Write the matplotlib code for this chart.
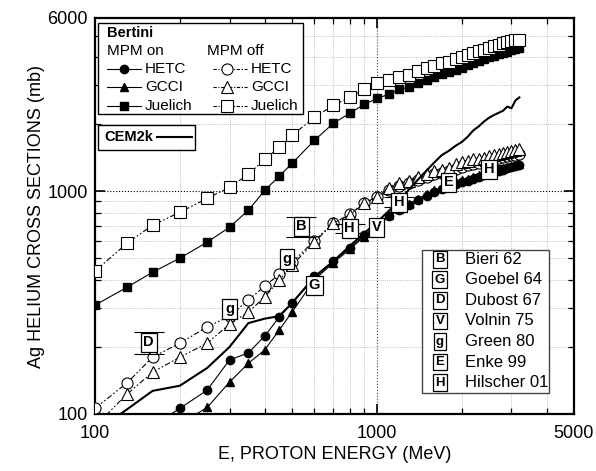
import matplotlib
matplotlib.use("Agg")
import matplotlib.pyplot as plt
import matplotlib.patches as mpatches
from matplotlib.lines import Line2D
from matplotlib.ticker import FixedLocator, NullFormatter, FixedFormatter
import numpy as np

plt.rcParams["font.family"] = ["Liberation Sans", "DejaVu Sans"]

# ── Data (MeV, mb) ────────────────────────────────────────────────────────────
E_ALL = [100, 130, 160, 200, 250, 300, 350, 400, 450, 500, 600, 700, 800, 900,
         1000, 1100, 1200, 1300, 1400, 1500, 1600, 1700, 1800, 1900, 2000, 2100,
         2200, 2300, 2400, 2500, 2600, 2700, 2800, 2900, 3000, 3100, 3200]
nan = np.nan

hetc_on = [nan, nan, 88, 106, 128, 175, 188, 224, 272, 315, 416, 485, 555, 635,
           704, 775, 822, 865, 910, 955, 990, 1020, 1050, 1080, 1100, 1112,
           1140, 1165, 1185, 1205, 1220, 1237, 1252, 1267, 1280, 1295, 1308]
gcci_on = [nan, nan, nan, 90, 107, 139, 169, 194, 238, 287, 400, 478, 548, 625,
           700, 780, 830, 880, 925, 970, 1010, 1040, 1070, 1100, 1120, 1135,
           1160, 1185, 1205, 1225, 1240, 1258, 1272, 1288, 1300, 1315, 1330]
juel_on = [308, 371, 433, 501, 591, 690, 822, 1010, 1168, 1335, 1693, 2018, 2238, 2455,
           2612, 2723, 2868, 2927, 3050, 3148, 3245, 3347, 3418, 3489, 3562, 3673,
           3787, 3840, 3920, 4010, 4065, 4115, 4170, 4230, 4290, 4340, 4378]
hetc_off = [106, 138, 180, 208, 246, 275, 325, 375, 424, 480, 600, 719, 788, 883,
            940, 1010, 1060, 1090, 1120, 1160, 1190, 1210, 1235, 1265, 1290, 1310,
            1330, 1345, 1360, 1380, 1395, 1410, 1425, 1435, 1450, 1460, 1475]
gcci_off = [88, 123, 154, 180, 208, 253, 287, 335, 399, 466, 591, 719, 781, 883,
            945, 1035, 1086, 1110, 1154, 1200, 1230, 1250, 1276, 1320, 1350, 1370,
            1390, 1400, 1415, 1440, 1455, 1475, 1485, 1495, 1510, 1525, 1545]
juel_off = [438, 585, 704, 805, 930, 1042, 1192, 1391, 1575, 1783, 2147, 2431, 2640, 2868,
            3050, 3150, 3270, 3330, 3460, 3560, 3650, 3760, 3800, 3910, 4000, 4110,
            4190, 4260, 4330, 4410, 4490, 4560, 4610, 4670, 4720, 4770, 4800]
cem2k = [83, 105, 127, 134, 161, 200, 256, 268, 275, 315, 411, 485, 567, 648,
         726, 815, 905, 1020, 1130, 1240, 1350, 1455, 1520, 1600, 1665, 1760,
         1880, 1960, 2060, 2140, 2200, 2250, 2300, 2400, 2360, 2560, 2640]

# experimental points
exp_letter = ["B", "G", "D", "V", "g", "g", "E", "H", "H", "H"]
exp_e = [540, 600, 155, 1000, 300, 480, 1800, 800, 1200, 2500]
exp_sig = [697, 379, 210, 690, 296, 496, 1097, 682, 893, 1256]
exp_err = [72, 0, 24, 0, 0, 0, 0, 34, 45, 63]

ref_letter = ["B", "G", "D", "V", "g", "E", "H"]
ref_label = ["Bieri 62", "Goebel 64", "Dubost 67", "Volnin 75", "Green 80", "Enke 99", "Hilscher 01"]

# ── Figure ────────────────────────────────────────────────────────────────────
fig = plt.figure(figsize=(5.96, 4.71), dpi=100)
ax = fig.add_axes([95 / 596, 1 - 414 / 471, 479 / 596, 396 / 471])
ax.set_xscale("log")
ax.set_yscale("log")
ax.set_xlim(100, 5000)
ax.set_ylim(100, 6000)

DASH = (0, (5, 2, 1.5, 2, 1.5, 2))
on_kw = dict(color="black", lw=0.8, ls="-", clip_on=True)
off_kw = dict(color="black", lw=0.8, ls=DASH, mfc="white", mec="black", mew=0.8, clip_on=True)

ax.plot(E_ALL, hetc_on, marker="o", ms=6, zorder=4, **on_kw)
ax.plot(E_ALL, gcci_on, marker="^", ms=6, zorder=4, **on_kw)
ax.plot(E_ALL, juel_on, marker="s", ms=5.5, zorder=4, **on_kw)
ax.plot(E_ALL, hetc_off, marker="o", ms=8, zorder=5, **off_kw)
ax.plot(E_ALL, gcci_off, marker="^", ms=9, zorder=5, **off_kw)
ax.plot(E_ALL, juel_off, marker="s", ms=8.5, zorder=5, **off_kw)
ax.plot(E_ALL, cem2k, color="black", lw=1.5, zorder=6)

# experimental data: error bars + boxed letters
for let, e, s, err in zip(exp_letter, exp_e, exp_sig, exp_err):
    if err:
        ax.errorbar([e], [s], yerr=[err], fmt="none", ecolor="black", elinewidth=0.8,
                    capsize=11, capthick=0.8, zorder=7)
    ax.text(e, s, let, ha="center", va="center", fontsize=10.5, fontweight="bold", zorder=8,
            bbox=dict(boxstyle="square,pad=0.18", fc="white", ec="black", lw=0.9))

# ticks & grid
ax.xaxis.set_major_locator(FixedLocator([100, 1000, 5000]))
ax.xaxis.set_major_formatter(FixedFormatter(["100", "1000", "5000"]))
ax.xaxis.set_minor_locator(FixedLocator([200, 300, 400, 500, 600, 700, 800, 900, 2000, 3000, 4000]))
ax.xaxis.set_minor_formatter(NullFormatter())
ax.yaxis.set_major_locator(FixedLocator([100, 1000, 6000]))
ax.yaxis.set_major_formatter(FixedFormatter(["100", "1000", "6000"]))
ax.yaxis.set_minor_locator(FixedLocator([200, 300, 400, 500, 600, 700, 800, 900, 2000, 3000, 4000, 5000]))
ax.yaxis.set_minor_formatter(NullFormatter())
ax.tick_params(which="both", direction="in", top=True, right=True, labelsize=13)
ax.tick_params(which="major", length=7, width=1.2)
ax.tick_params(which="minor", length=4, width=0.9)
ax.tick_params(axis="x", which="major", pad=8)
ax.tick_params(axis="y", which="major", pad=5)
ax.grid(True, which="minor", color="#a8a8a8", lw=0.6, ls=":")
ax.axhline(1000, color="black", lw=0.8, ls=":", zorder=1)
ax.axvline(1000, color="#444444", lw=0.8, ls=":", zorder=1)
for sp in ax.spines.values():
    sp.set_linewidth(1.6)

ax.set_xlabel("E, PROTON ENERGY (MeV)", fontsize=13, labelpad=3)
ax.set_ylabel("Ag HELIUM CROSS SECTIONS (mb)", fontsize=13, labelpad=2)

# ── Legend 1: Bertini models ─────────────────────────────────────────────────
T = ax.transAxes
ax.add_patch(mpatches.Rectangle((0.006, 0.758), 0.428, 0.229, transform=T, fc="white",
                                ec="black", lw=1.0, zorder=10))
ax.text(0.025, 0.962, "Bertini", transform=T, fontsize=10.5, fontweight="bold", va="center", zorder=11)
ax.text(0.025, 0.917, "MPM on", transform=T, fontsize=11, va="center", zorder=11)
ax.text(0.234, 0.917, "MPM off", transform=T, fontsize=11, va="center", zorder=11)
rows = [("HETC", "o", 6, 8, 0.872), ("GCCI", "^", 6, 9, 0.825), ("Juelich", "s", 5.5, 8.5, 0.777)]
for name, mk, ms_on, ms_off, yy in rows:
    ax.add_line(Line2D([0.025, 0.06, 0.095], [yy, yy, yy], transform=T, color="black", lw=0.8,
                       marker=mk, ms=ms_on, markevery=[1], zorder=11))
    ax.text(0.104, yy, name, transform=T, fontsize=11, va="center", zorder=11)
    ax.add_line(Line2D([0.247, 0.276, 0.317], [yy, yy, yy], transform=T, color="black", lw=0.8,
                       ls=(0, (3, 1.5, 1, 1.5)), marker=mk, ms=ms_off, markevery=[1],
                       mfc="white", mec="black", mew=0.8, zorder=11))
    ax.text(0.326, yy, name, transform=T, fontsize=11, va="center", zorder=11)

ax.add_patch(mpatches.Rectangle((0.006, 0.667), 0.203, 0.063, transform=T, fc="white",
                                ec="black", lw=1.0, zorder=10))
ax.text(0.019, 0.699, "CEM2k", transform=T, fontsize=10.5, fontweight="bold", va="center", zorder=11)
ax.add_line(Line2D([0.129, 0.203], [0.699, 0.699], transform=T, color="black", lw=1.5, zorder=11))

# ── Legend 2: experiments ────────────────────────────────────────────────────
ax.add_patch(mpatches.Rectangle((0.683, 0.053), 0.265, 0.361, transform=T, fc="white",
                                ec="#444444", lw=1.0, zorder=10))
for i, (let, lab) in enumerate(zip(ref_letter, ref_label)):
    yy = 0.391 - i * 0.052
    ax.text(0.720, yy, let, transform=T, ha="center", va="center", fontsize=9.5,
            fontweight="bold", zorder=11,
            bbox=dict(boxstyle="square,pad=0.18", fc="white", ec="black", lw=0.9))
    ax.text(0.772, yy, lab, transform=T, va="center", fontsize=12, zorder=11)

fig.savefig("out.png", dpi=100, facecolor="white")
